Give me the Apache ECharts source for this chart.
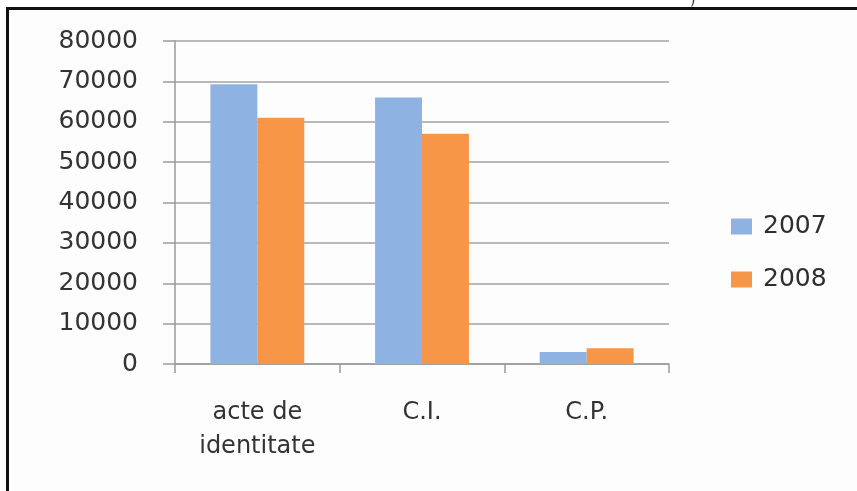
<!DOCTYPE html>
<html lang="ro">
<head>
    <meta charset="utf-8">
    <title>acte de identitate 2007 - 2008</title>
    <style>
        html, body { margin: 0; padding: 0; background: #ffffff; }
        #chart { width: 857px; height: 491px; }
    </style>
</head>
<body>
<div id="chart"></div>
<script src="https://cdn.jsdelivr.net/npm/echarts@6/dist/echarts.min.js"></script>
<script>
var categories = ['acte de\nidentitate', 'C.I.', 'C.P.'];
var years = ['2007', '2008'];
var values2007 = [69300, 66000, 3000];
var values2008 = [61000, 57000, 3900];
var yTicks = [0, 10000, 20000, 30000, 40000, 50000, 60000, 70000, 80000];

var colors = ['#8eb3e2', '#f69646'];
var textFont = 'DejaVu Sans';

var chart = echarts.init(document.getElementById('chart'));
chart.setOption({
    backgroundColor: '#ffffff',
    animation: false,
    graphic: [
        {
            type: 'rect',
            z: -2,
            shape: { x: 9, y: 10, width: 848, height: 481 },
            style: { fill: '#fdfdfd' }
        },
        {
            type: 'line',
            shape: { x1: 7.5, y1: 8.5, x2: 857, y2: 8.5 },
            style: { stroke: '#111111', lineWidth: 3 }
        },
        {
            type: 'line',
            shape: { x1: 7.5, y1: 7, x2: 7.5, y2: 491 },
            style: { stroke: '#111111', lineWidth: 3 }
        },
        {
            type: 'text',
            left: 690, top: -6,
            style: { text: ')', fontSize: 14, fill: '#333', fontFamily: textFont }
        }
    ],
    grid: {
        left: 175,
        right: 188,
        top: 41,
        bottom: 127
    },
    legend: {
        orient: 'vertical',
        left: 726,
        top: 207,
        itemWidth: 21,
        itemHeight: 16,
        itemGap: 24,
        icon: 'rect',
        data: years,
        textStyle: {
            fontSize: 25,
            lineHeight: 29,
            color: '#2e2e2e',
            fontFamily: textFont,
            padding: [0, 0, 0, 6]
        }
    },
    xAxis: {
        type: 'category',
        data: categories,
        axisLine: { lineStyle: { color: '#9a9a9a', width: 1.5 } },
        axisTick: { show: true, length: 9, lineStyle: { color: '#9a9a9a', width: 1.5 } },
        axisLabel: {
            margin: 32,
            fontSize: 24,
            lineHeight: 34,
            color: '#333333',
            fontFamily: textFont
        }
    },
    yAxis: {
        type: 'value',
        min: 0,
        max: 80000,
        interval: 10000,
        axisLine: { show: true, lineStyle: { color: '#9a9a9a', width: 1.5 } },
        axisTick: { show: true, length: 12, lineStyle: { color: '#9a9a9a', width: 1.5 } },
        splitLine: { lineStyle: { color: '#a2a2a2', width: 1.5 } },
        axisLabel: {
            margin: 37,
            fontSize: 25,
            color: '#333333',
            fontFamily: textFont,
            formatter: function (v) {
                return yTicks.indexOf(v) >= 0 ? String(v) : '';
            }
        }
    },
    series: [
        {
            name: years[0],
            type: 'bar',
            data: values2007,
            barGap: '0%',
            barCategoryGap: '43%',
            itemStyle: { color: colors[0] }
        },
        {
            name: years[1],
            type: 'bar',
            data: values2008,
            barGap: '0%',
            barCategoryGap: '43%',
            itemStyle: { color: colors[1] }
        }
    ]
});
</script>
</body>
</html>
